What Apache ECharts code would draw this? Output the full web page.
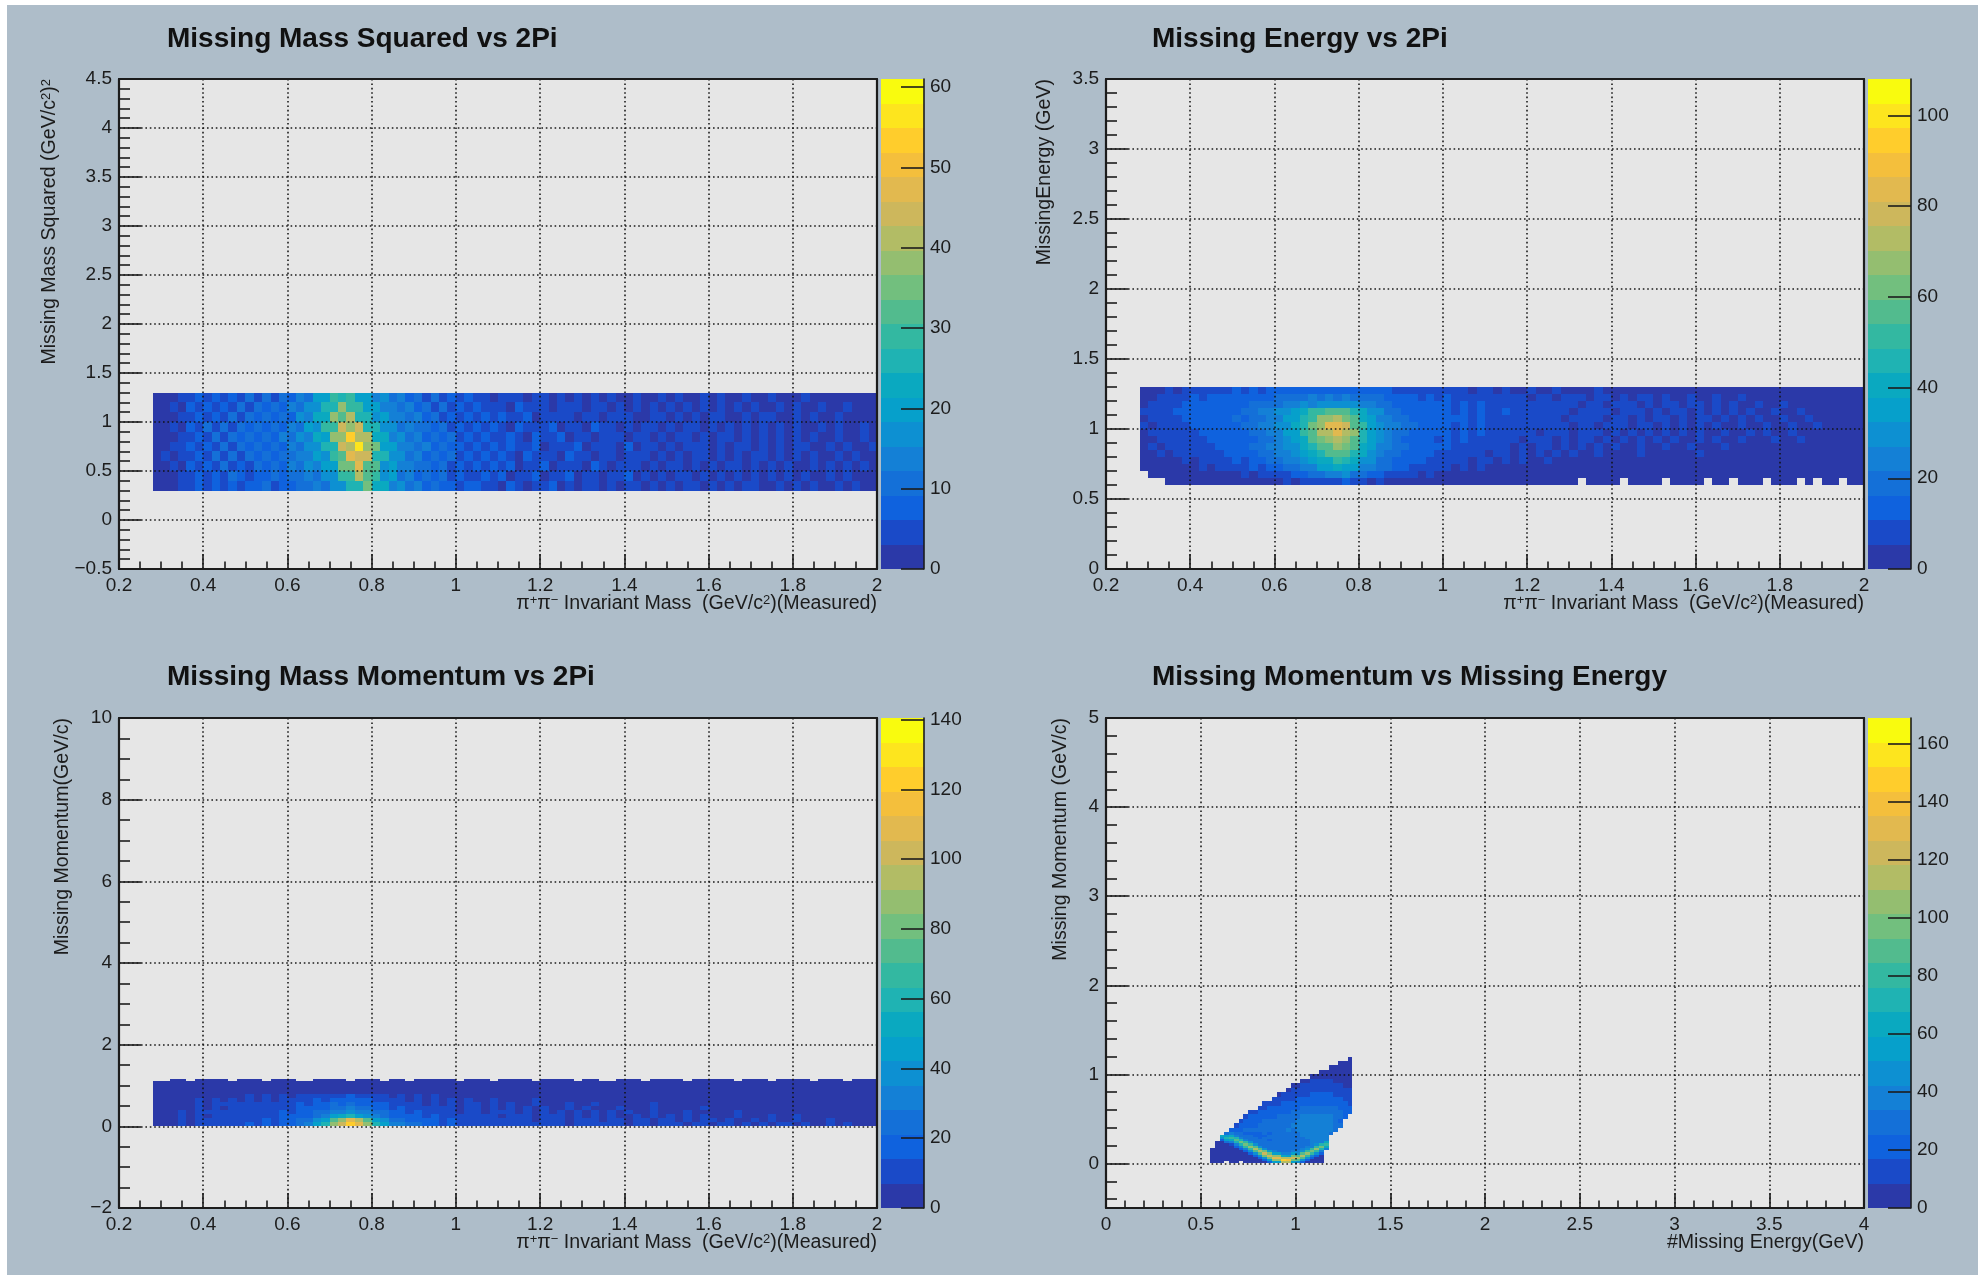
<!DOCTYPE html>
<html><head><meta charset="utf-8">
<style>html,body{margin:0;padding:0;background:#fff}#c{width:1988px;height:1275px}</style>
<script src="https://cdn.jsdelivr.net/npm/echarts@6/dist/echarts.min.js"></script>
</head><body><div id="c"></div>
<script>
const _ = null;
const titles = ['Missing Mass Squared vs 2Pi','Missing Energy vs 2Pi','Missing Mass Momentum vs 2Pi','Missing Momentum vs Missing Energy'];
const xTitles = ['π{s|+}π{s|−} Invariant Mass  (GeV/c{s|2})(Measured)','π{s|+}π{s|−} Invariant Mass  (GeV/c{s|2})(Measured)','π{s|+}π{s|−} Invariant Mass  (GeV/c{s|2})(Measured)','#Missing Energy(GeV)'];
const yTitles = ['Missing Mass Squared (GeV/c{s|2}){s|2}','MissingEnergy (GeV)','Missing Momentum(GeV/c)','Missing Momentum (GeV/c)'];
const palette = ['#2b39a8','#1a4ac8','#0f62de','#1470d8','#1480d6','#0d90d2','#06a0cb','#0aa9c0','#1fb3b3','#33b8a1','#52bb8e','#72bf7e','#94be70','#b2bc65','#cdb75c','#e2b94f','#f4bf3c','#ffcd2c','#fde51e','#f9fb0e'];
const zMax = [61,108,140.5,169];
const zTicks = [[0,10,20,30,40,50,60],[0,20,40,60,80,100],[0,20,40,60,80,100,120,140],[0,20,40,60,80,100,120,140,160]];

// Panel 1: y 0.3..1.3 (rows bottom-up)
const p1Left = [
[2,1,3,5,4,7,5,9,6,8,5,9,7,10,6,9,8,12,10,14,12,17,16,25,25,35,24,24,14,16,10,13,8,11,7,9,5,7],
[1,3,2,6,4,8,4,9,5,10,7,5,9,7,11,8,12,10,15,12,18,18,29,30,41,31,29,17,19,12,14,9,12,7,10,6,8,5],
[2,2,5,3,7,4,9,5,10,6,9,6,10,8,10,8,13,11,16,14,21,21,35,35,46,33,32,18,20,13,15,10,12,8,11,6,9,6],
[1,4,2,6,4,9,5,10,6,10,6,11,7,10,8,12,10,15,13,20,18,30,31,48,43,45,27,25,16,17,12,14,9,11,7,10,6,8],
[2,1,5,4,8,5,9,6,10,6,11,7,10,7,12,9,14,12,18,16,26,25,43,42,55,38,34,19,21,14,15,10,13,8,11,7,9,5],
[1,3,2,6,5,9,5,10,6,11,7,10,7,10,8,13,10,16,14,22,21,37,38,54,40,41,23,23,15,17,11,13,8,12,7,10,5,7],
[2,2,5,3,7,5,10,6,10,6,10,7,10,8,11,9,14,11,19,18,29,30,45,39,43,27,26,16,18,12,14,10,12,7,11,6,9,5],
[1,3,2,6,4,9,5,9,6,10,6,11,7,10,8,12,9,16,13,22,22,37,33,41,27,27,18,19,13,15,10,13,7,11,6,9,5,8],
[2,1,4,3,7,4,9,5,9,6,10,6,11,7,11,8,14,10,17,16,26,27,38,28,28,19,20,14,15,10,13,8,11,6,10,5,8,4],
[1,2,2,5,4,7,5,8,5,8,6,10,5,10,6,12,8,14,12,20,19,30,26,30,19,21,14,16,10,13,8,11,6,10,5,8,4,7]];
const p1Right = [
[7,4,6,3,7,5,3,6,4,7,3,5,2,6,4,3,6,2,5,4,2,6,3,5,2,4,6,2,4,3,5,2,4,6,2,3,5,2,4,2,5,3,2,4,2,5,2,3],
[5,8,4,7,3,6,5,8,3,6,4,7,3,5,6,2,5,4,7,2,5,3,6,2,4,5,2,6,3,4,2,5,3,6,2,4,3,5,2,5,3,2,4,3,5,2,3,2],
[8,5,7,4,8,3,6,5,7,3,6,4,6,3,7,4,2,6,4,5,3,6,2,5,4,2,6,3,5,2,4,6,2,5,3,4,2,6,3,2,5,3,4,2,5,2,4,3],
[6,9,4,7,6,3,8,4,6,5,3,7,4,6,3,5,6,3,5,4,6,2,5,3,6,2,5,4,2,6,3,5,2,4,6,2,5,3,4,2,6,3,2,5,3,4,2,3],
[9,5,7,5,8,4,6,7,3,6,5,4,7,3,6,4,5,3,7,2,5,4,3,6,2,5,4,6,2,5,3,4,6,2,4,3,5,2,4,5,2,3,5,2,4,3,2,4],
[5,8,6,4,7,6,3,7,5,4,7,3,6,5,3,6,4,5,2,6,4,3,6,2,5,4,2,6,3,5,4,2,5,3,6,2,4,3,5,2,4,3,2,5,3,2,4,2],
[8,5,7,6,3,8,4,6,5,7,3,6,4,3,7,4,5,2,6,3,5,4,2,6,3,5,4,2,6,2,5,3,4,2,5,3,6,2,4,3,2,5,3,4,2,3,4,2],
[6,7,4,8,5,4,7,3,6,5,4,6,3,6,4,2,6,4,5,3,2,6,4,2,5,3,6,2,4,5,2,3,5,2,4,6,2,3,5,2,4,3,2,4,3,2,3,2],
[7,4,6,5,3,7,5,4,6,3,6,4,5,2,6,4,3,5,2,6,3,4,2,5,3,6,2,4,3,5,2,4,3,5,2,3,5,2,4,3,2,4,2,3,4,2,3,2],
[4,6,3,5,4,6,2,5,4,3,5,2,5,3,4,2,5,3,2,4,3,2,5,2,4,2,3,4,2,5,3,2,4,2,3,4,2,3,2,4,2,3,2,3,2,3,2,2]];

// Panel 2: y 0.6..1.3
const p2Left = [
[_,_,_,3,2,3,2,3,3,4,2,3,4,3,4,5,3,6,5,7,8,6,10,8,11,7,8,5,7,4,5,3,5,3,4,3],
[_,3,2,3,4,2,4,3,5,3,5,4,6,5,8,7,10,10,14,13,19,20,26,25,27,21,20,15,14,10,10,7,8,5,6,4],
[3,2,4,3,2,5,3,6,5,7,6,9,7,11,10,14,13,19,18,24,26,33,33,39,35,34,26,24,18,17,13,13,9,10,7,8],
[2,4,3,5,4,6,5,8,6,9,8,11,10,13,13,18,17,23,23,31,33,42,42,49,44,43,32,29,21,20,15,15,11,12,9,10],
[4,3,6,4,7,6,8,7,10,9,12,11,14,13,18,17,23,24,31,33,42,47,54,55,55,47,40,30,25,20,19,14,14,11,12,9],
[3,6,4,7,6,9,7,10,9,12,11,14,13,17,17,22,22,29,31,40,46,57,58,66,60,55,41,34,25,23,18,17,13,14,11,12],
[5,4,7,6,9,7,10,9,12,11,14,13,16,16,20,20,26,28,37,42,54,61,70,72,70,57,47,33,28,22,21,16,16,13,13,10],
[4,7,6,9,7,10,9,12,11,14,13,16,15,19,19,24,25,33,37,49,57,71,74,84,73,65,45,37,27,25,19,19,15,15,12,13],
[7,5,9,7,10,9,12,11,14,13,16,15,18,17,22,22,29,31,42,47,62,68,82,82,76,58,49,33,30,23,22,17,17,14,14,11],
[5,8,7,10,9,12,11,14,13,15,14,17,16,20,20,25,26,34,36,48,53,66,66,74,60,55,39,34,26,24,19,19,15,15,12,13],
[7,6,9,9,12,11,14,13,15,14,16,15,19,18,23,22,29,30,37,42,49,52,58,56,54,44,39,29,27,21,20,16,16,13,14,11],
[4,8,7,10,9,13,11,14,13,15,14,16,15,18,17,21,20,24,23,28,26,30,28,31,27,28,23,23,18,19,15,16,13,14,11,12],
[5,5,8,7,10,9,12,10,13,11,14,12,15,13,16,15,18,17,20,19,22,20,23,21,22,19,20,17,17,14,15,12,13,10,11,9],
[2,5,4,7,5,8,7,9,8,10,8,11,9,12,10,13,11,14,13,15,14,16,14,16,14,15,12,14,11,12,9,10,8,9,7,8]];
const p2Right = [
[3,2,3,2,3,3,2,2,3,2,2,3,2,2,3,2,_,2,3,2,2,_,3,2,2,3,_,2,2,3,2,_,2,3,_,2,2,3,_,2,3,2,_,2,_,3,2,_,2,2],
[5,4,4,3,4,3,3,4,3,2,3,3,2,3,3,2,3,2,3,2,2,3,2,3,2,3,2,2,3,2,2,3,2,2,3,2,3,2,2,3,2,2,3,2,2,3,2,2,3,2],
[7,5,6,4,6,4,5,3,5,4,3,5,3,4,3,4,3,4,2,4,3,3,4,2,3,4,3,2,4,3,3,2,4,3,2,3,3,4,2,3,3,2,3,4,2,3,3,2,3,2],
[9,6,8,5,7,6,4,7,4,6,5,3,6,4,5,3,5,4,3,5,4,3,5,3,4,4,3,5,3,4,3,4,3,5,3,3,4,3,4,3,3,4,3,2,4,3,3,4,2,3],
[10,7,9,6,8,5,8,6,4,7,5,6,4,6,4,6,5,3,6,4,5,4,3,6,4,5,3,5,4,3,6,4,3,5,4,3,5,3,4,4,3,5,3,4,3,3,4,3,3,3],
[12,8,10,7,9,6,8,7,5,8,5,7,6,4,7,5,6,4,7,4,6,5,4,6,5,3,6,5,4,6,3,5,4,6,3,5,4,4,5,3,5,4,3,5,3,4,4,3,4,3],
[13,9,11,7,10,8,6,9,7,5,9,6,7,5,8,5,7,6,4,8,5,6,4,7,5,6,4,7,5,3,6,5,6,4,5,6,3,5,4,6,4,3,6,4,5,3,5,4,3,4],
[14,10,12,8,11,7,10,6,9,7,8,5,9,6,7,5,8,6,7,4,8,5,7,5,6,4,8,5,6,4,7,5,4,6,5,4,7,3,6,4,5,6,3,5,4,5,3,5,3,4],
[15,10,13,9,11,8,10,7,9,6,10,7,8,6,9,5,7,8,5,7,6,8,4,7,6,5,7,4,8,5,6,4,7,5,4,7,5,3,6,5,4,6,5,3,6,4,5,3,5,3],
[14,11,12,9,12,8,10,8,7,10,6,9,7,8,5,9,6,7,8,5,7,6,5,8,4,7,6,5,8,4,6,7,4,6,5,7,3,6,5,4,7,4,5,6,3,5,5,3,4,4],
[15,10,13,10,11,9,7,11,8,9,6,10,7,8,9,5,8,6,7,9,5,7,6,8,5,7,4,8,6,5,7,4,7,5,6,4,7,5,3,6,5,4,7,3,5,5,4,3,5,3],
[12,10,13,8,11,8,10,7,10,6,9,8,6,9,7,8,5,8,7,5,9,6,7,4,8,5,7,6,4,7,6,5,7,3,6,5,4,7,4,5,6,3,5,4,5,3,5,3,4,3],
[11,8,10,8,9,7,9,6,8,7,5,8,7,5,8,6,7,4,7,6,5,7,4,6,6,4,7,5,4,6,5,3,6,5,4,6,3,5,5,3,5,4,3,5,4,3,4,3,4,3],
[8,6,7,5,7,6,4,7,5,4,6,5,3,6,5,4,5,3,6,4,4,5,3,5,4,3,5,4,3,5,3,4,4,3,5,3,3,4,3,4,3,3,4,2,3,3,2,3,3,2]];

// Panel 3: y 0..0.8, then dark upper part
const p3Left = [
[3,5,4,8,7,12,8,13,9,14,10,15,11,16,14,19,18,28,32,46,60,87,103,120,110,90,58,47,34,32,24,24,18,19,14,17,11,14],
[2,4,3,8,5,11,9,11,10,12,11,13,11,15,13,17,17,24,27,38,48,72,88,112,96,74,48,38,28,27,20,21,15,17,12,15,10,13],
[1,4,4,8,6,11,7,12,8,13,11,12,10,14,12,16,15,20,21,28,33,44,50,60,48,42,30,28,20,21,15,17,12,15,10,13,8,11],
[1,4,3,8,5,10,8,10,9,11,9,13,9,14,12,15,14,19,18,24,26,32,33,40,32,30,22,23,16,18,13,15,10,14,9,12,7,11],
[1,4,3,7,5,10,6,11,7,12,8,12,10,12,10,14,13,17,16,21,21,27,26,32,25,26,18,20,14,16,11,14,9,12,8,11,6,10],
[0,3,3,7,5,9,7,9,8,10,8,10,9,11,9,13,11,15,13,18,17,23,21,26,20,21,15,17,11,14,9,12,7,11,6,10,5,9],
[1,3,2,6,4,8,6,8,7,9,7,9,7,11,7,11,9,13,11,15,14,19,16,21,15,17,12,14,9,12,7,11,6,10,5,9,4,8],
[1,3,1,5,3,7,3,7,5,7,5,9,5,9,5,9,7,10,8,12,10,14,12,15,11,13,9,11,7,10,6,9,5,8,5,7,4,6]];
const p3Right = [
[13,10,14,9,12,11,9,13,8,12,10,7,12,9,11,8,10,12,7,11,9,6,11,8,10,7,9,11,6,10,8,6,10,7,9,6,9,8,5,9,7,6,8,5,8,6,7,5],
[12,9,13,10,8,12,10,7,11,9,12,7,10,8,11,6,10,9,7,11,8,6,10,8,7,10,6,9,8,5,9,7,6,9,5,8,7,5,9,6,7,5,8,6,5,7,5,6],
[10,8,11,7,10,8,11,6,9,8,10,6,9,7,9,6,10,7,5,9,7,8,5,10,6,8,5,9,6,7,5,8,6,7,4,8,6,5,8,4,7,6,4,7,5,6,4,5],
[10,7,9,8,10,6,9,7,10,5,9,7,8,6,9,5,8,6,9,5,7,8,5,7,6,8,4,7,6,7,4,8,5,6,7,4,6,5,7,4,6,5,6,4,6,5,4,5],
[9,6,10,5,8,7,9,5,8,7,6,8,5,9,6,7,4,8,6,7,5,8,4,6,7,5,6,8,4,6,5,7,4,6,6,3,7,5,4,6,5,4,6,3,5,5,3,5],
[8,6,9,5,8,7,4,9,6,7,5,8,6,4,8,6,7,4,7,5,6,8,3,6,5,7,4,6,5,3,7,5,4,6,4,5,6,3,5,4,6,3,5,4,3,5,4,3],
[7,5,8,4,7,6,3,8,5,6,4,7,5,6,3,7,5,4,6,5,3,7,4,5,6,3,5,5,3,6,4,5,3,5,4,5,3,5,4,3,5,3,4,4,3,4,3,3],
[6,3,6,4,5,3,6,4,3,6,3,5,4,2,5,4,3,5,2,4,3,4,2,5,3,3,4,2,4,3,2,4,3,2,4,2,3,3,2,3,2,3,2,3,2,2,3,2]];
const p3Upper = [[3]];
const p3Edge = [[_,_,2,2,_,2,2,2,2,_,2,2,2,_,2,2,2,_,_,2,2,2,2,_,2,2,2,_,2,2,_,2,2,2,2,2,_,2,2,2,_,2,2,2,2,_,2,2,2,2,_,2,2,_,_,2,2,2,_,2,2,2,2,_,2,2,2,2,2,_,2,2,2,_,2,2,2,2,_,2,2,2,_,2,2,2]];

// Panel 4: E 0.55..1.3, P 0..1.2
const p4Low = [
[5,3,4,_,3,4,_,5,3,4,5,7,25,55,57,116,112,52,48,22,8,5,6,4],
[4,5,3,4,5,3,6,4,5,6,7,24,52,104,108,145,140,100,92,46,21,7,6,5],
[4,4,5,3,5,6,4,5,6,5,23,50,100,130,135,116,112,125,115,88,44,20,7,6],
[3,5,4,5,4,5,6,5,7,22,48,96,125,104,108,61,59,100,92,110,84,42,21,8],
[4,3,5,4,6,5,5,7,21,46,92,120,100,55,57,40,38,52,48,88,105,80,44,19],
[3,5,4,6,5,7,8,20,44,88,115,96,52,35,33,30,32,35,36,46,84,100,84,40],
[5,4,6,5,6,6,19,42,84,110,92,50,33,31,29,28,30,31,33,34,44,80,105,76,34],
[_,4,5,6,5,17,40,80,105,88,48,33,30,28,27,28,29,30,31,33,34,40,84,95,64],
[_,3,5,7,16,36,76,100,84,46,32,29,28,26,27,27,28,29,30,31,33,34,44,76,80],
[_,4,6,29,34,68,95,80,44,32,29,27,26,27,26,28,27,29,30,32,33,35,36,40,64],
[_,_,25,56,64,85,76,42,30,28,26,26,25,26,27,27,28,28,30,31,33,35,37,38,38],
[_,_,48,70,80,68,40,30,27,26,25,26,26,27,27,28,29,30,31,33,35,37,38,38,35],
[_,_,60,56,64,36,30,27,26,24,25,25,26,26,28,28,30,30,32,34,36,38,40,39,36],
[_,_,_,29,34,30,26,25,24,25,24,26,25,27,27,29,29,31,33,35,37,39,41,40,38,28]];
const p4HighStart = [4,5,6,7,8,10,11,13,14,16,17,19,21,23,25,27,29];
const p4High = [
[18,22,25,26,28,27,30,29,31,30,33,32,35,33,36,38,37,40,42,41,40,36,30],
[15,20,22,24,25,26,27,28,29,30,31,32,34,35,37,39,41,42,40,38,36,33,28],
[15,19,21,23,25,26,27,28,29,30,31,33,34,36,38,40,39,38,37,35,31,25],
[14,18,20,22,23,24,25,26,28,29,30,32,34,35,36,37,36,35,34,32,29,24],
[12,16,18,20,21,22,23,24,25,27,28,30,31,32,33,32,31,30,29,27,24,20],
[12,15,17,18,19,21,22,24,25,26,27,28,29,28,28,27,26,25,22,18],
[10,13,15,16,18,19,20,21,22,23,24,25,24,25,24,23,21,19,16],
[10,12,14,15,16,17,18,19,20,21,21,20,20,19,17,15,13],
[8,11,12,13,14,15,16,17,18,18,17,17,16,14,13,11],
[7,10,11,12,13,14,14,15,14,14,13,12,10,9],
[6,8,10,11,12,12,12,11,11,10,9,8,7],
[6,8,9,9,10,9,9,8,7,6,5],
[5,6,7,7,6,6,5,4,4],
[4,5,5,4,4,3,3],
[3,4,3,3,2],
[3,2,2],
[2]];

const blocks = [
 [{rows:p1Left,x0:.28,dx:.02,y0:.3,dy:.1},{rows:p1Right,x0:1.04,dx:.02,y0:.3,dy:.1}],
 [{rows:p2Left,x0:.28,dx:.02,y0:.6,dy:.05},{rows:p2Right,x0:1,dx:.02,y0:.6,dy:.05}],
 [{rows:p3Left,x0:.28,dx:.02,y0:0,dy:.1},{rows:p3Right,x0:1.04,dx:.02,y0:0,dy:.1},
  {rows:p3Upper,x0:.28,dx:1.72,y0:.8,dy:.32},{rows:p3Edge,x0:.28,dx:.02,y0:1.12,dy:.05}],
 [{rows:p4Low,x0:.55,dx:.025,y0:0,dy:.025},{rows:p4High,x0:.55,dx:.025,y0:.35,dy:.05,starts:p4HighStart}]
];
function cells(list){
  const out=[];
  list.forEach(b=>b.rows.forEach((row,r)=>{
    const s=b.starts?b.starts[r]:0;
    row.forEach((v,i)=>{
      if(v===null) return;
      out.push([b.x0+b.dx*(s+i),b.x0+b.dx*(s+i+1),b.y0+b.dy*r,b.y0+b.dy*(r+1),v]);
    });
  }));
  return out;
}

const L=[119,1106], T=[79,718], W=758, H=490, CW=43;
const font='"Liberation Sans", Arial, sans-serif', ink='#1c1c1c';
const xCfg=[{min:.2,max:2,interval:.2,split:4},{min:.2,max:2,interval:.2,split:4},{min:.2,max:2,interval:.2,split:4},{min:0,max:4,interval:.5,split:5}];
const yCfg=[{min:-.5,max:4.5,interval:.5,split:5},{min:0,max:3.5,interval:.5,split:5},{min:-2,max:10,interval:2,split:4},{min:-.5,max:5,interval:.5}];
const p4YTicks=[0,1,2,3,4,5], p4YMinor=[-.4,-.2,.2,.4,.6,.8,1.2,1.4,1.6,1.8,2.2,2.4,2.6,2.8,3.2,3.4,3.6,3.8,4.2,4.4,4.6,4.8];

const labelFmt=v=>String(+(+v).toFixed(3)).replace('-','−');
const lbl=(m)=>({show:true,margin:m,fontFamily:font,fontSize:19,color:ink,formatter:labelFmt});
const tickStyle={color:ink,width:1.6};
const dotted={show:true,lineStyle:{type:[1.6,2.8],width:1.6,color:'#111',opacity:.95}};
const lineOnly={show:true,onZero:false,lineStyle:{color:ink,width:2.2}};

const grid=[],xAxis=[],yAxis=[],series=[],title=[],graphic=[];
graphic.push({type:'rect',z:-5,shape:{x:7,y:5,width:1971,height:1270},style:{fill:'#aebdc9'},silent:true});
const rectItem=(fillOf)=>(params,api)=>{
  const a=api.coord([api.value(0),api.value(2)]),b=api.coord([api.value(1),api.value(3)]);
  const x=Math.round(a[0]),x2=Math.round(b[0]),y=Math.round(b[1]),y2=Math.round(a[1]);
  return {type:'rect',shape:{x,y,width:x2-x,height:y2-y},style:{fill:fillOf(api.value(4))}};
};
const supRich={s:{fontSize:13,fontFamily:font,fill:ink,verticalAlign:'top',lineHeight:20}};
for(let p=0;p<4;p++){
  const left=L[p%2], top=T[p>>1], g=grid.length;
  grid.push({left,top,width:W,height:H,show:true,backgroundColor:'#e6e6e6',borderWidth:0,containLabel:false});
  const xi=xAxis.length, yi=yAxis.length, xc=xCfg[p], yc=yCfg[p];
  xAxis.push({type:'value',gridIndex:g,position:'bottom',min:xc.min,max:xc.max,interval:xc.interval,z:5,
    axisLine:lineOnly,axisTick:{show:true,inside:true,length:15,lineStyle:tickStyle},
    minorTick:{show:true,splitNumber:xc.split,length:7.5,lineStyle:tickStyle},
    axisLabel:lbl(7),splitLine:dotted,minorSplitLine:{show:false}});
  xAxis.push({type:'value',gridIndex:g,position:'top',min:xc.min,max:xc.max,z:5,axisLine:lineOnly,axisTick:{show:false},axisLabel:{show:false},splitLine:{show:false}});
  if(p===3){
    yAxis.push({type:'value',gridIndex:g,position:'left',min:yc.min,max:yc.max,interval:yc.interval,z:5,
      axisLine:lineOnly,axisTick:{show:true,inside:true,length:22,lineStyle:tickStyle,customValues:p4YTicks},
      axisLabel:Object.assign(lbl(7),{customValues:p4YTicks}),splitLine:dotted});
  } else {
    yAxis.push({type:'value',gridIndex:g,position:'left',min:yc.min,max:yc.max,interval:yc.interval,z:5,
      axisLine:lineOnly,axisTick:{show:true,inside:true,length:22,lineStyle:tickStyle},
      minorTick:{show:true,splitNumber:yc.split,length:11,lineStyle:tickStyle},
      axisLabel:lbl(7),splitLine:dotted,minorSplitLine:{show:false}});
  }
  yAxis.push({type:'value',gridIndex:g,position:'right',min:yc.min,max:yc.max,z:5,axisLine:lineOnly,axisTick:{show:false},axisLabel:{show:false},splitLine:{show:false}});
  if(p===3){
    yAxis.push({type:'value',gridIndex:g,position:'left',min:yc.min,max:yc.max,interval:yc.interval,z:5,
      axisLine:{show:false,onZero:false},axisTick:{show:true,inside:true,length:11,lineStyle:tickStyle,customValues:p4YMinor},
      axisLabel:{show:false},splitLine:{show:false}});
  }
  const maxZ=zMax[p];
  series.push({type:'custom',name:titles[p],coordinateSystem:'cartesian2d',xAxisIndex:xi,yAxisIndex:yi,z:2,clip:true,silent:true,animation:false,
    encode:{x:[0,1],y:[2,3]},data:cells(blocks[p]),
    renderItem:rectItem(v=>palette[Math.min(19,Math.floor(v/maxZ*20))])});
  // colour bar
  const cg=grid.length, cx=xAxis.length, cy=yAxis.length;
  grid.push({left:left+W+4,top,width:CW,height:H,show:false});
  xAxis.push({type:'value',gridIndex:cg,min:0,max:1,show:false,axisLine:{onZero:false}});
  yAxis.push({type:'value',gridIndex:cg,position:'right',min:0,max:maxZ,z:5,
    axisLine:{show:true,onZero:false,lineStyle:{color:ink,width:1.6}},
    axisTick:{show:true,inside:true,length:23,lineStyle:tickStyle,customValues:zTicks[p]},
    axisLabel:Object.assign(lbl(6),{customValues:zTicks[p]}),splitLine:{show:false}});
  series.push({type:'custom',coordinateSystem:'cartesian2d',xAxisIndex:cx,yAxisIndex:cy,z:2,silent:true,animation:false,
    encode:{x:[0,1],y:[2,3]},
    data:palette.map((c,i)=>[0,1,i*maxZ/20,(i+1)*maxZ/20,i]),
    renderItem:rectItem(i=>palette[i])});
  title.push({text:titles[p],left:(p%2?1152:167),top:top-(p>>1?55:54),textStyle:{fontFamily:font,fontWeight:'bold',fontSize:28,color:'#111'},padding:0});
  graphic.push({type:'text',x:left+W,y:top+H+35,style:{text:xTitles[p],fontSize:19.6,fontFamily:font,fill:ink,align:'right',verticalAlign:'middle',rich:supRich},silent:true});
}
const yTitleX=[50,1045,63,1061];
yTitles.forEach((t,p)=>{
  graphic.push({type:'text',x:yTitleX[p],y:T[p>>1],rotation:Math.PI/2,style:{text:t,fontSize:19.6,fontFamily:font,fill:ink,align:'right',verticalAlign:'middle',rich:supRich},silent:true});
});
const chart=echarts.init(document.getElementById('c'),null,{renderer:'canvas'});
chart.setOption({animation:false,backgroundColor:'#ffffff',title,grid,xAxis,yAxis,series,graphic,tooltip:{show:false}});
</script></body></html>
